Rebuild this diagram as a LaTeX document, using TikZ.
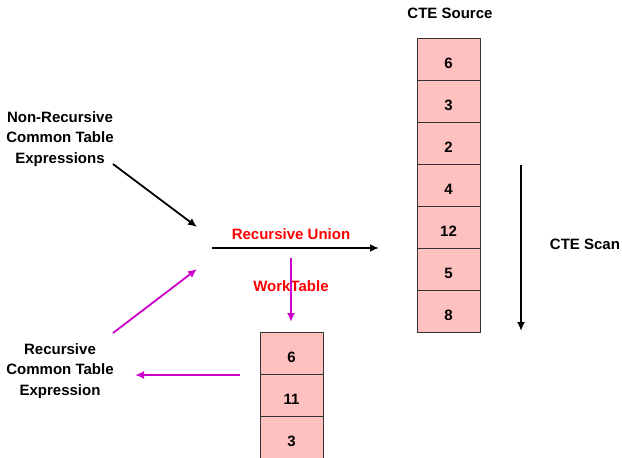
\documentclass[tikz,border=0pt]{standalone}
\usepackage{fontspec}
\setmainfont{Liberation Sans}
\usetikzlibrary{arrows.meta}
\definecolor{cellpink}{RGB}{255,192,192}
\definecolor{loopmagenta}{RGB}{204,0,204}
\begin{document}
\begin{tikzpicture}[x=1pt,y=-1pt,
    cell/.style ={draw=black!80, fill=cellpink, line width=0.8pt, minimum width=63pt, minimum height=42pt, inner sep=0pt, text height=18.5pt, text depth=0pt, font=\fontsize{15}{20.5}\selectfont\bfseries},
    note/.style ={align=center, font=\fontsize{15}{20.5}\selectfont\bfseries},
    flow/.style ={line width=1.8pt, -{Latex[length=9pt,width=8pt]}},
    backflow/.style ={flow, loopmagenta}]
   \useasboundingbox (0,0) rectangle (622,458);
   \node[note] (srctitle) at (450,13) {CTE Source};
   \foreach \v [count=\i] in {6,3,2,4,12,5,8}
     \node[cell] (src\i) at (448.5,17+42*\i) {\v};
   \foreach \v [count=\i] in {6,11,3}
     \node[cell] (wt\i) at (291.5,311+42*\i) {\v};
   \node[note] (nonrec) at (60,139) {Non-Recursive\\Common Table\\Expressions};
   \node[note] (rec) at (60,371) {Recursive\\Common Table\\Expression};
   \node[note, red] (union) at (291,234) {Recursive Union};
   \node[note, red] (worktable) at (291,286) {WorkTable};
   \node[note] (scan) at (585,244) {CTE Scan};
   \coordinate (nonrecout) at (113,164);
   \coordinate (nonrecin) at (197,227);
   \coordinate (recout) at (113,333);
   \coordinate (recin) at (197,269);
   \coordinate (unionstart) at (212,248);
   \coordinate (unionend) at (379,248);
   \coordinate (wtstart) at (291,258);
   \coordinate (wtend) at (291,322);
   \coordinate (backstart) at (240,375);
   \coordinate (backend) at (135,375);
   \coordinate (scanstart) at (521,165);
   \coordinate (scanend) at (521,331);
   \draw[flow] (nonrecout) to (nonrecin);
   \draw[flow] (unionstart) to (unionend);
   \draw[flow] (scanstart) to (scanend);
   \draw[backflow] (recout) to (recin);
   \draw[backflow] (wtstart) to (wtend);
   \draw[backflow] (backstart) to (backend);
 \end{tikzpicture}
\end{document}
